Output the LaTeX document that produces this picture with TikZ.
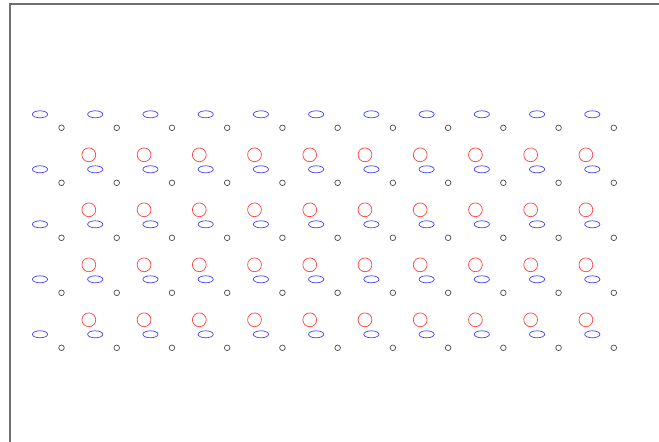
\documentclass[tikz,border=0pt]{standalone}
\usepackage{tikz}
\usetikzlibrary{shapes.geometric,calc}
\definecolor{framegray}{HTML}{707070}

\begin{document}
\begin{tikzpicture}[x=1pt, y=-1pt,
    blueell/.style={draw=blue!75, line width=0.7pt, ellipse, inner sep=0pt,
                    minimum width=15.2pt, minimum height=7pt},
    redring/.style={draw=red!75, line width=0.7pt, circle, inner sep=0pt,
                    minimum size=13.8pt},
    dotring/.style={draw=black!70, line width=0.7pt, circle, inner sep=0pt,
                    minimum size=5.6pt}]
    % Canvas
    \useasboundingbox (0,0) rectangle (659,442);
    \coordinate (F1) at (10,442);
    \coordinate (F2) at (10,4);
    \coordinate (F3) at (659,4);
    \draw[framegray, line width=1.2pt] (F1) -- (F2) -- (F3);

    % Grid of ellipses and small rings
    \foreach \i in {0,...,10} {
      \foreach \j in {0,...,4} {
        \node[blueell] (e-\i-\j) at ({40+55.23*\i},{114.3+55*\j}) {};
        \node[dotring] (d-\i-\j) at ($(e-\i-\j)+(21.5,13.5)$) {};
      }
    }

    % Red rings
    \foreach \i in {1,...,10} {
      \foreach \j in {1,...,4} {
        \node[redring] (r-\i-\j) at ($(e-\i-\j)+(-6.4,-14.5)$) {};
      }
    }
\end{tikzpicture}
\end{document}
